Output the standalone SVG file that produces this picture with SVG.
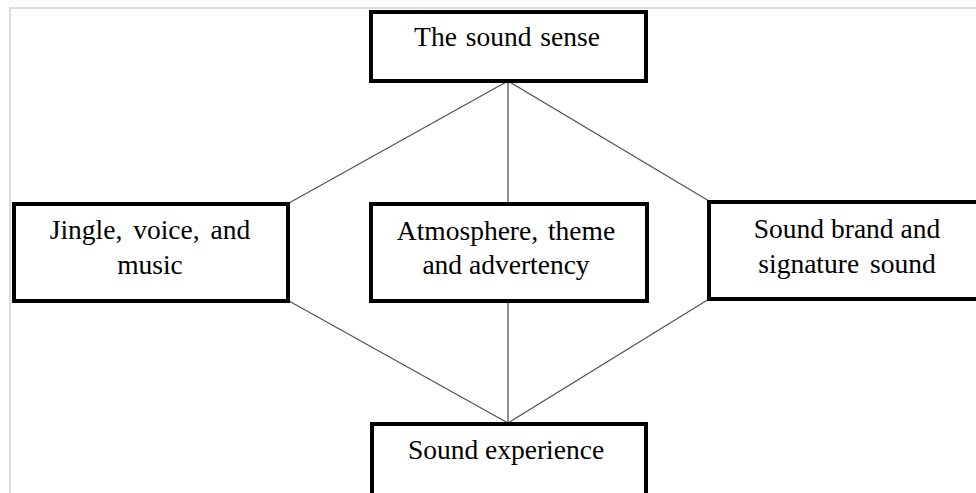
<svg xmlns="http://www.w3.org/2000/svg" width="976" height="493" viewBox="0 0 976 493">
<style>
.box{fill:#fff;stroke:#000;stroke-width:4}
.t{font-family:"Liberation Serif","Times New Roman",serif;font-size:27.5px;fill:#000;text-anchor:middle}
.c{stroke:#555;stroke-width:1.3;fill:none}
</style>
<rect width="976" height="493" fill="#fff"/>
<path d="M10 493V8H976" fill="none" stroke="#dcdcdc" stroke-width="2"/>
<g id="connectors">
<line class="c" x1="508" y1="81" x2="289" y2="203"/>
<line class="c" x1="508" y1="81" x2="508" y2="203"/>
<line class="c" x1="508" y1="81" x2="709" y2="201"/>
<line class="c" x1="289" y1="301" x2="508" y2="423"/>
<line class="c" x1="508" y1="301" x2="508" y2="423"/>
<line class="c" x1="709" y1="299" x2="508" y2="423"/>
</g>
<g id="top">
<rect class="box" x="371" y="12" width="275" height="69"/>
<text class="t" x="507" y="46" word-spacing="2">The sound sense</text>
</g>
<g id="left">
<rect class="box" x="14" y="204" width="274" height="97"/>
<text class="t" x="150" y="239" word-spacing="4">Jingle, voice, and</text>
<text class="t" x="150" y="274">music</text>
</g>
<g id="middle">
<rect class="box" x="371" y="204" width="276" height="97"/>
<text class="t" x="506" y="240" word-spacing="3">Atmosphere, theme</text>
<text class="t" x="506" y="274">and advertency</text>
</g>
<g id="right">
<rect class="box" x="709" y="202" width="275" height="97"/>
<text class="t" x="847" y="238">Sound brand and</text>
<text class="t" x="847" y="273" word-spacing="4">signature sound</text>
</g>
<g id="bottom">
<rect class="box" x="372" y="424" width="274" height="80"/>
<text class="t" x="506" y="459">Sound experience</text>
</g>
</svg>
